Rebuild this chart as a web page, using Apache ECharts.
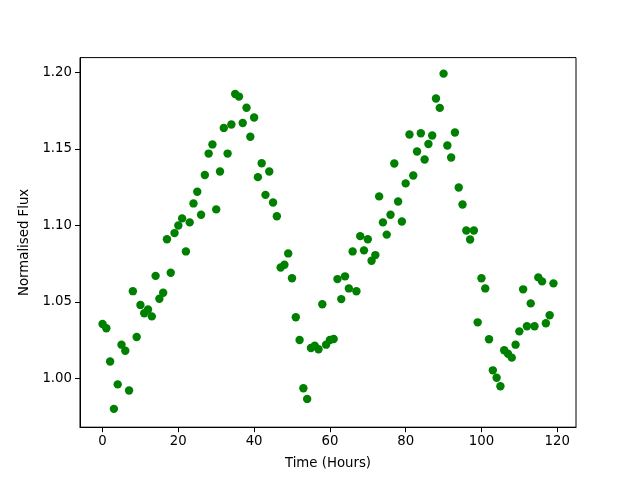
<!DOCTYPE html>
<html>
<head>
<meta charset="utf-8">
<script src="https://cdn.jsdelivr.net/npm/echarts@6/dist/echarts.min.js"></script>
<style>
  html, body { margin: 0; padding: 0; background: #fff; }
  #chart { width: 640px; height: 480px; }
</style>
</head>
<body>
<div id="chart"></div>
<script>
// hours 0..119, one reading per hour
var hours = [];
for (var h = 0; h < 120; h++) hours.push(h);

var flux = [
  1.0355, 1.0327, 1.011, 0.980, 0.996, 1.022, 1.018, 0.992, 1.057, 1.027,
  1.048, 1.0425, 1.045, 1.0405, 1.067, 1.052, 1.056, 1.091, 1.069, 1.095,
  1.100, 1.1046, 1.083, 1.102, 1.1144, 1.122, 1.107, 1.133, 1.147, 1.153,
  1.1105, 1.1353, 1.1638, 1.147, 1.166, 1.186, 1.1843, 1.167, 1.177, 1.158,
  1.1706, 1.1316, 1.1407, 1.120, 1.1353, 1.115, 1.106, 1.0725, 1.0743, 1.0817,
  1.0654, 1.0399, 1.025, 0.9935, 0.9865, 1.0198, 1.0213, 1.019, 1.0484, 1.022,
  1.025, 1.0257, 1.0649, 1.0518, 1.0667, 1.0588, 1.083, 1.0569, 1.093, 1.0837,
  1.091, 1.0769, 1.0806, 1.119, 1.102, 1.094, 1.107, 1.1405, 1.1157, 1.1026,
  1.1275, 1.1595, 1.1327, 1.1484, 1.1603, 1.1431, 1.1533, 1.1588, 1.183, 1.1769,
  1.1993, 1.1523, 1.1444, 1.1608, 1.1248, 1.1137, 1.0967, 1.0908, 1.0967, 1.0366,
  1.0654, 1.0588, 1.0255, 1.0052, 1.0004, 0.9948, 1.0183, 1.0161, 1.0135, 1.022,
  1.0307, 1.0582, 1.034, 1.049, 1.034, 1.066, 1.0634, 1.036, 1.0412, 1.0621
];

var xTicks = [0, 20, 40, 60, 80, 100, 120];
var yTicks = [1.00, 1.05, 1.10, 1.15, 1.20];

var points = hours.map(function (t, i) { return [t, flux[i]]; });

var font = 'DejaVu Sans';
var chart = echarts.init(document.getElementById('chart'), null, { renderer: 'canvas' });

chart.setOption({
    backgroundColor: '#fff',
    animation: false,
    grid: {
        left: 80, right: 64, top: 57.6, bottom: 52.8,
        show: true, borderColor: '#000', borderWidth: 1, backgroundColor: 'transparent'
    },
    xAxis: {
        type: 'value',
        min: -5.95, max: 124.95,
        name: 'Time (Hours)',
        nameLocation: 'middle',
        nameGap: 30,
        nameTextStyle: { fontFamily: font, fontSize: 13.3, color: '#000' },
        splitLine: { show: false },
        axisLine: { show: true, onZero: false, lineStyle: { color: '#000', width: 1 } },
        axisTick: { show: true, inside: false, length: 5, customValues: xTicks, lineStyle: { color: '#000' } },
        axisLabel: { customValues: xTicks, fontFamily: font, fontSize: 13.3, color: '#000', margin: 8 }
    },
    yAxis: {
        type: 'value',
        min: 0.968, max: 1.2098,
        name: 'Normalised Flux',
        nameLocation: 'middle',
        nameGap: 42,
        nameTextStyle: { fontFamily: font, fontSize: 13.3, color: '#000' },
        splitLine: { show: false },
        axisLine: { show: true, onZero: false, lineStyle: { color: '#000', width: 1 } },
        axisTick: { show: true, inside: false, length: 5, customValues: yTicks, lineStyle: { color: '#000' } },
        axisLabel: {
            customValues: yTicks, fontFamily: font, fontSize: 13.3, color: '#000', margin: 8,
            formatter: function (v) { return v.toFixed(2); }
        }
    },
    series: [{
        type: 'scatter',
        data: points,
        symbol: 'circle',
        symbolSize: 8.4,
        itemStyle: { color: '#008000', opacity: 1 }
    }]
});
</script>
</body>
</html>
